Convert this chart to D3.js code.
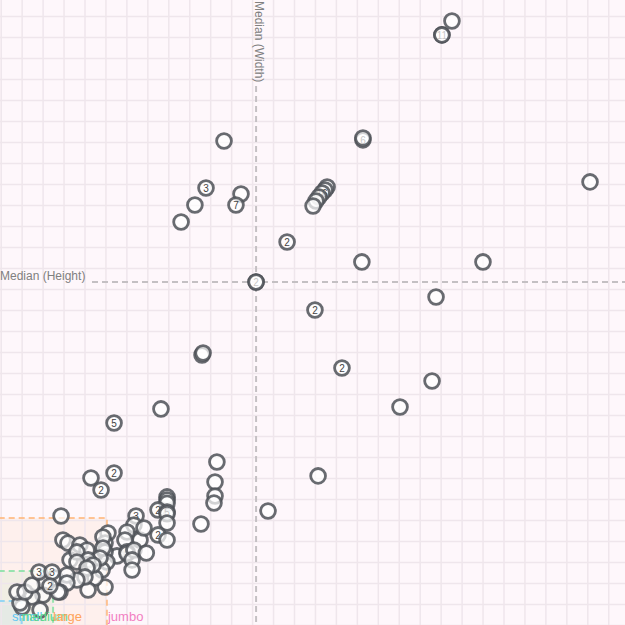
<!DOCTYPE html>
<html>
<head>
<meta charset="utf-8">
<script src="https://cdn.jsdelivr.net/npm/d3@7"></script>
<style>
  html, body { margin: 0; padding: 0; background: #ffffff; }
  svg { display: block; }
  text { font-family: "Liberation Sans", Arial, sans-serif; }
</style>
</head>
<body>
<div id="chart"></div>
<script>
// ---- data (grid units) ----
const pointWidth = [
  21.54, 21.06, 21.06, 10.66, 17.29, 17.29, 28.13, 9.80, 9.27, 11.47, 11.23, 8.61,
  15.58, 15.48, 15.34, 15.19, 15.05, 14.91,
  13.67, 17.24, 23.02, 12.19, 12.19, 20.78, 15.00, 9.61, 9.66, 16.29, 20.59, 19.06,
  7.65, 5.41, 10.32, 5.41, 4.31, 4.79, 15.15, 10.23, 10.23, 10.18, 12.76, 9.56, 2.88,
  7.94, 7.94, 7.94, 7.51, 7.94, 7.94, 7.94, 7.51, 7.94,
  6.65, 5.55,
  6.46, 6.36, 6.84, 6.03, 5.93, 6.03, 6.03, 6.36, 6.95, 6.27, 6.27,
  5.12, 4.98, 4.98, 5.07, 4.84, 4.98,
  3.31, 2.59, 2.12, 4.50, 4.17,
  2.97, 3.21, 3.78, 4.12, 3.64, 4.88, 4.88, 4.74, 4.17, 3.64, 4.41, 4.12, 4.02, 3.64,
  3.16, 3.16, 2.83, 2.74, 2.02, 1.49, 1.88, 1.02, 0.92, 0.78, 1.16, 1.49,
  1.83, 2.45, 2.35
];
const pointHeight = [
  28.76, 28.10, 28.10, 23.05, 23.10, 23.19, 21.10, 20.81, 20.00, 20.52, 20.00, 19.19,
  20.86, 20.71, 20.57, 20.38, 20.19, 19.95,
  18.24, 17.29, 17.29, 16.33, 16.33, 15.62, 15.00, 12.86, 12.95, 12.24, 11.62, 10.38,
  10.29, 9.62, 7.76, 7.24, 7.00, 6.43, 7.10, 6.81, 6.14, 5.81, 5.43, 4.81, 5.19,
  6.10, 5.95, 5.80, 5.48, 5.38, 5.30, 4.86, 4.29, 4.05,
  4.05, 3.29,
  5.19, 4.76, 4.62, 4.43, 4.05, 3.48, 3.40, 3.57, 3.43, 3.10, 2.62,
  4.38, 3.90, 3.48, 3.00, 2.62, 1.81,
  3.10, 2.24, 2.00, 2.24, 1.67,
  4.05, 3.90, 3.81, 3.57, 3.48, 4.19, 3.67, 3.19, 3.10, 3.00, 2.86, 2.71, 2.29, 2.14,
  2.38, 2.00, 1.57, 1.57, 1.43, 1.33, 0.71, 0.86, 1.05, 1.57, 1.57, 1.90,
  2.52, 2.52, 1.86
];
const pointCount = [
  1, 11, 1, 1, 6, 1, 1, 3, 1, 1, 7, 1,
  1, 1, 16, 1, 1, 1,
  2, 1, 1, 2, 1, 1, 2, 1, 1, 2, 1, 1,
  1, 5, 1, 2, 1, 2, 1, 1, 1, 1, 1, 1, 1,
  1, 1, 1, 2, 5, 1, 1, 2, 1,
  1, 1,
  3, 1, 1, 1, 1, 5, 1, 1, 1, 1, 1,
  1, 1, 1, 1, 1, 1,
  1, 1, 1, 1, 1,
  1, 1, 1, 1, 1, 1, 1, 1, 1, 1, 1, 1, 1, 1,
  1, 1, 1, 1, 1, 1, 1, 1, 1, 1, 1, 1,
  3, 3, 2
];

const sizeClasses   = ["jumbo", "large", "medium", "small"];
const classMaxWidth  = [40, 5.07, 2.50, 1.0];
const classMaxHeight = [40, 5.10, 2.57, 1.14];
const classLabelAt   = [5.12, 2.50, 1.0, 0.54];
const classColors    = ["#f49ccf", "#ffb77a", "#7fe0a0", "#7fd0f5"];
const classTextColors = ["#f27fc2", "#ffa35c", "#5cd88a", "#5cc6f2"];

const medianWidth = 12.19;
const medianHeight = 16.33;
const medianLabels = ["Median (Width)", "Median (Height)"];

// ---- chart ----
const W = 625, H = 625;
const x = d3.scaleLinear().domain([0, 30]).range([0.7, 629.2]);
const y = d3.scaleLinear().domain([0, 30]).range([625, -5]);

const svg = d3.select("#chart").append("svg").attr("width", W).attr("height", H);
svg.append("rect").attr("width", W).attr("height", H).attr("fill", "#ffffff");

// class boxes (fills)
const boxes = sizeClasses.map((c, i) => ({c, mw: classMaxWidth[i], mh: classMaxHeight[i], col: classColors[i], tc: classTextColors[i], lx: classLabelAt[i]}));
svg.append("g").selectAll("rect").data(boxes).join("rect")
  .attr("x", x(0) - 1).attr("y", d => y(d.mh))
  .attr("width", d => x(d.mw) - x(0) + 1).attr("height", d => y(0) - y(d.mh))
  .attr("fill", d => d.col).attr("fill-opacity", (d, i) => i === 0 ? 0.08 : 0.1);

// grid
const gx = svg.append("g").attr("transform", `translate(0,${H})`)
  .call(d3.axisBottom(x).tickValues(d3.range(0, 31)).tickSize(H).tickFormat(""));
gx.select(".domain").remove();
gx.selectAll("line").attr("stroke", "#efe6ec").attr("stroke-width", 1.5).attr("y1", 0).attr("y2", -H);
const gy = svg.append("g")
  .call(d3.axisRight(y).tickValues(d3.range(0, 31)).tickSize(W).tickFormat(""));
gy.select(".domain").remove();
gy.selectAll("line").attr("stroke", "#efe6ec").attr("stroke-width", 1.5);

// class box borders
svg.append("g").selectAll("path").data(boxes.slice(1)).join("path")
  .attr("d", d => `M${x(0) - 2},${y(d.mh)} H${x(d.mw)} V${y(0) + 2}`)
  .attr("fill", "none").attr("stroke", d => d.col).attr("stroke-width", 2)
  .attr("stroke-dasharray", "6,4").attr("stroke-opacity", 0.8);

// median lines
svg.append("line").attr("x1", 92).attr("x2", W).attr("y1", y(medianHeight)).attr("y2", y(medianHeight))
  .attr("stroke", "#c4c0c3").attr("stroke-width", 2).attr("stroke-dasharray", "6,4");
svg.append("line").attr("x1", x(medianWidth)).attr("x2", x(medianWidth)).attr("y1", 86).attr("y2", H)
  .attr("stroke", "#c4c0c3").attr("stroke-width", 2).attr("stroke-dasharray", "6,4");
svg.append("text").attr("x", 0).attr("y", y(medianHeight) - 2)
  .attr("font-size", 12).attr("fill", "#808080").text(medianLabels[1]);
svg.append("text").attr("transform", `translate(${x(medianWidth) - 1},1) rotate(90)`)
  .attr("font-size", 12).attr("fill", "#808080").text(medianLabels[0]);

// points
const pts = pointWidth.map((w, i) => ({w, h: pointHeight[i], n: pointCount[i]}));
const g = svg.append("g").selectAll("g").data(pts).join("g")
  .attr("transform", d => `translate(${x(d.w)},${y(d.h)})`);
g.append("circle").attr("r", 7.4)
  .attr("fill", "#ffffff").attr("fill-opacity", 0.7)
  .attr("stroke", "#4d5157").attr("stroke-opacity", 0.85).attr("stroke-width", 2.8);
g.filter(d => d.n > 1).append("text")
  .attr("text-anchor", "middle").attr("dy", "0.36em")
  .attr("font-size", 10).attr("fill", "#444").text(d => d.n);

// class labels
svg.append("g").selectAll("text").data(boxes.slice().reverse()).join("text")
  .attr("x", d => x(d.lx)).attr("y", 621)
  .attr("font-size", 13).attr("fill", d => d.tc).text(d => d.c);
</script>
</body>
</html>
